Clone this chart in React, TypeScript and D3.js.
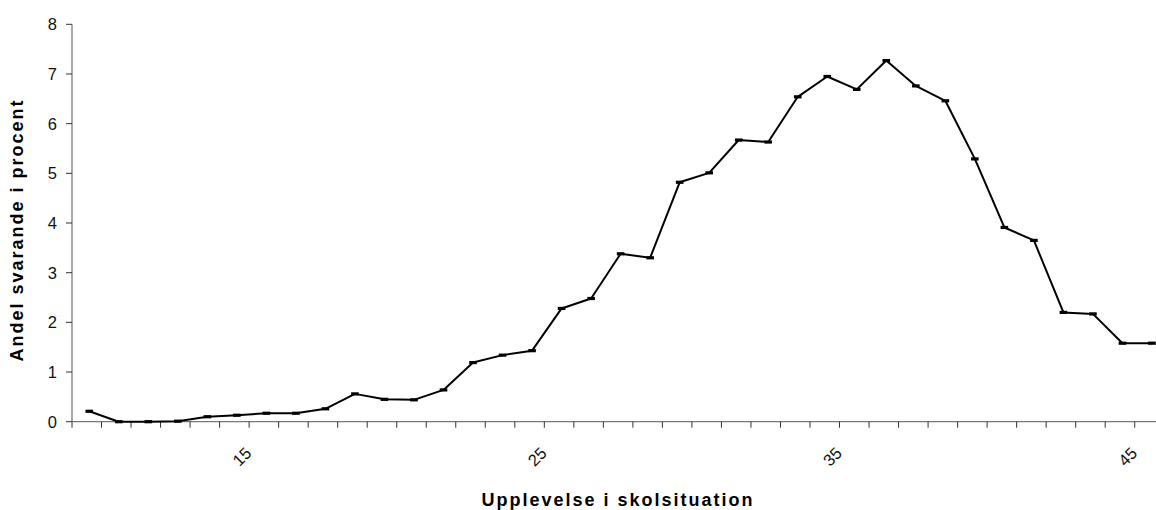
import React from "react";
import * as d3 from "d3";

const categories: number[] = [10,11,12,13,14,15,16,17,18,19,20,21,22,23,24,25,26,27,28,29,30,31,32,33,34,35,36,37,38,39,40,41,42,43,44,45,46];
const values: number[] = [0.21,0,0,0.01,0.1,0.13,0.17,0.17,0.26,0.56,0.45,0.44,0.64,1.19,1.34,1.43,2.28,2.48,3.38,3.3,4.82,5.01,5.67,5.63,6.54,6.95,6.69,7.27,6.76,6.46,5.29,3.91,3.65,2.2,2.17,1.58,1.58];
const yTicks: number[] = [0,1,2,3,4,5,6,7,8];
const xTickLabels: number[] = [15,25,35,45];

export default function App() {
  const W = 1156, H = 510;
  const left = 72, top = 24.3, bottom = 421.7;
  const step = 29.52;
  const x = d3.scaleBand<number>().domain(categories).range([left, left + categories.length * step]).padding(0);
  const y = d3.scaleLinear().domain([0, 8]).range([bottom, top]);
  const cx = (c: number) => (x(c) as number) + x.bandwidth() / 2 + 2.5;
  const line = d3.line<number>().x((_, i) => cx(categories[i])).y((v) => y(v));
  const font = "'Liberation Sans', Arial, sans-serif";
  const tickEdges = d3.range(categories.length + 1).map((i) => left + i * step);
  return (
    <svg width={W} height={H} style={{ position: "absolute", left: 0, top: 0, background: "#fff" }} fontFamily={font}>
      {/* y axis */}
      <line x1={left} x2={left} y1={top} y2={bottom} stroke="#555" strokeWidth={1} />
      {yTicks.map((t) => (
        <g key={t}>
          <line x1={left - 6} x2={left} y1={y(t)} y2={y(t)} stroke="#333" strokeWidth={1} />
          <text x={57} y={y(t)} textAnchor="end" dominantBaseline="central" fontSize={16.5} fill="#111">{t}</text>
        </g>
      ))}
      {/* x axis */}
      <line x1={left} x2={W} y1={bottom} y2={bottom} stroke="#777" strokeWidth={1.2} />
      {tickEdges.map((tx, i) => (
        <line key={i} x1={tx} x2={tx} y1={bottom} y2={bottom + 6} stroke="#333" strokeWidth={1} />
      ))}
      {xTickLabels.map((c) => {
        const px = (x(c) as number) + x.bandwidth() / 2 + 14;
        const py = 450;
        return (
          <text key={c} x={px} y={py} textAnchor="end" dominantBaseline="central" fontSize={16.5} fill="#111" transform={`rotate(-45 ${px} ${py})`}>{c}</text>
        );
      })}
      {/* line */}
      <path d={line(values) || ""} fill="none" stroke="#000" strokeWidth={2} strokeLinejoin="round" />
      {values.map((v, i) => (
        <rect key={i} x={cx(categories[i]) - 3.8} y={y(v) - 1.6} width={7.6} height={3.2} fill="#000" />
      ))}
      {/* titles */}
      <text x={618} y={500} textAnchor="middle" dominantBaseline="central" fontSize={18} fontWeight="bold" letterSpacing={2} fill="#000">Upplevelse i skolsituation</text>
      <text transform={`translate(17 230) rotate(-90)`} textAnchor="middle" dominantBaseline="central" fontSize={18} fontWeight="bold" letterSpacing={2} fill="#000">Andel svarande i procent</text>
    </svg>
  );
}
